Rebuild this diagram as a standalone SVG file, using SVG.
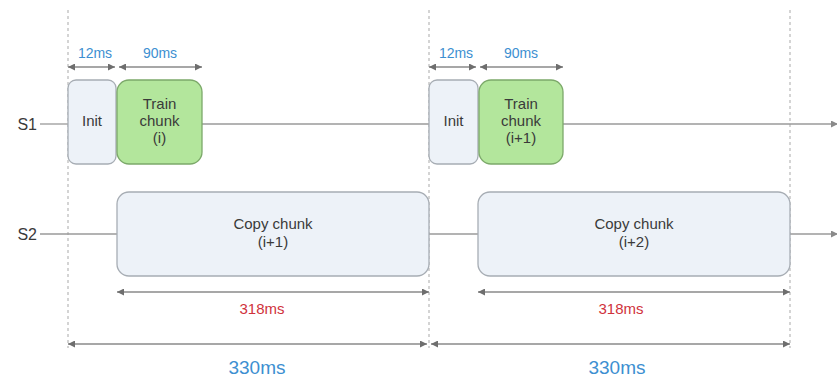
<svg xmlns="http://www.w3.org/2000/svg" width="837" height="377" viewBox="0 0 837 377">
<defs>
<style>
.guide{stroke:#b8b8b8;stroke-width:1.2;stroke-dasharray:3 3;fill:none}
.tl{stroke:#9a9a9a;stroke-width:1.3;fill:none}
.dim{stroke:#8a8a8a;stroke-width:1.5;fill:none;marker-start:url(#ah);marker-end:url(#ah)}
.init{fill:#edf2f8;stroke:#a7adb4;stroke-width:1.3}
.train{fill:#b3e69c;stroke:#7ca96a;stroke-width:1.3}
.copy{fill:#edf2f8;stroke:#a7adb4;stroke-width:1.3}
text{font-family:"Liberation Sans",Arial,sans-serif;fill:#3a3a3a}
.box{font-size:15px;text-anchor:middle}
.lane{font-size:16px;text-anchor:end}
.small{font-size:14px;fill:#3d8fd1;text-anchor:middle}
.red{font-size:15px;fill:#d0323c;text-anchor:middle}
.big{font-size:19px;fill:#3d8fd1;text-anchor:middle}
</style>
<marker id="ah" viewBox="0 0 10 10" refX="10" refY="5" markerWidth="8" markerHeight="7" markerUnits="userSpaceOnUse" orient="auto-start-reverse">
<path d="M0,0 L10,5 L0,10 z" fill="#6e6e6e"/>
</marker>
<marker id="ahe" viewBox="0 0 10 10" refX="10" refY="5" markerWidth="8" markerHeight="7" markerUnits="userSpaceOnUse" orient="auto">
<path d="M0,0 L10,5 L0,10 z" fill="#8a8a8a"/>
</marker>
</defs>
<rect width="837" height="377" fill="#ffffff"/>
<g id="guides">
<line class="guide" x1="68" y1="10" x2="68" y2="348"/>
<line class="guide" x1="429" y1="10" x2="429" y2="348"/>
<line class="guide" x1="790" y1="10" x2="790" y2="348"/>
</g>
<g id="connectors">
<line class="tl" x1="40" y1="124" x2="68" y2="124"/>
<line class="tl" x1="202" y1="124" x2="429" y2="124"/>
<line class="tl" x1="563" y1="124" x2="838" y2="124" marker-end="url(#ahe)"/>
<line class="tl" x1="40" y1="234" x2="117" y2="234"/>
<line class="tl" x1="429" y1="234" x2="478" y2="234"/>
<line class="tl" x1="790" y1="234" x2="838" y2="234" marker-end="url(#ahe)"/>
<line class="dim" x1="68" y1="67" x2="115" y2="67"/>
<line class="dim" x1="119" y1="67" x2="202" y2="67"/>
<line class="dim" x1="429" y1="67" x2="476" y2="67"/>
<line class="dim" x1="480" y1="67" x2="563" y2="67"/>
<line class="dim" x1="117" y1="292" x2="429" y2="292"/>
<line class="dim" x1="478" y1="292" x2="790" y2="292"/>
<line class="dim" x1="68" y1="344" x2="427" y2="344"/>
<line class="dim" x1="431" y1="344" x2="790" y2="344"/>
</g>
<g id="labels">
<text class="lane" x="37" y="130">S1</text>
<text class="lane" x="37" y="240">S2</text>
<text class="small" x="95" y="58">12ms</text>
<text class="small" x="160" y="58">90ms</text>
<text class="small" x="456" y="58">12ms</text>
<text class="small" x="521" y="58">90ms</text>
<text class="red" x="262" y="314">318ms</text>
<text class="red" x="621" y="314">318ms</text>
<text class="big" x="257" y="374">330ms</text>
<text class="big" x="617" y="374">330ms</text>
</g>
<g id="init1">
<rect class="init" x="68" y="80" width="48" height="84" rx="8"/>
<text class="box" x="92" y="126">Init</text>
</g>
<g id="train1">
<rect class="train" x="117" y="80" width="85" height="84" rx="12"/>
<text class="box" x="159.5" y="109">Train</text>
<text class="box" x="159.5" y="126">chunk</text>
<text class="box" x="159.5" y="143">(i)</text>
</g>
<g id="init2">
<rect class="init" x="429" y="80" width="49" height="84" rx="8"/>
<text class="box" x="453.5" y="126">Init</text>
</g>
<g id="train2">
<rect class="train" x="479" y="80" width="84" height="84" rx="12"/>
<text class="box" x="521" y="109">Train</text>
<text class="box" x="521" y="126">chunk</text>
<text class="box" x="521" y="143">(i+1)</text>
</g>
<g id="copy1">
<rect class="copy" x="117" y="192" width="312" height="84" rx="12"/>
<text class="box" x="273" y="229">Copy chunk</text>
<text class="box" x="273" y="247">(i+1)</text>
</g>
<g id="copy2">
<rect class="copy" x="478" y="192" width="312" height="84" rx="12"/>
<text class="box" x="634" y="229">Copy chunk</text>
<text class="box" x="634" y="247">(i+2)</text>
</g>
</svg>
